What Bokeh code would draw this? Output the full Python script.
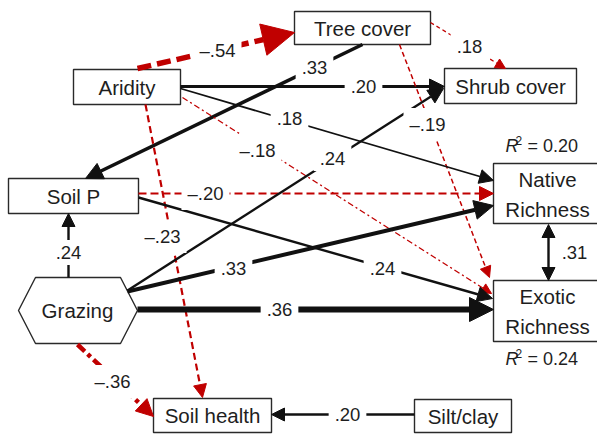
from bokeh.plotting import figure
from bokeh.models import Range1d, Arrow, NormalHead, ColumnDataSource
from bokeh.core.properties import value
from bokeh.embed import file_html
from bokeh.resources import INLINE

# ---------------- data ----------------
node_names = ["Aridity", "Tree cover", "Shrub cover", "Soil P",
              "Native\nRichness", "Exotic\nRichness", "Soil health", "Silt/clay"]
hex_name = "Grazing"
edge_coefs = ["–.54", ".20", ".33", ".18", "–.19", ".18", "–.18", "–.23",
              "–.20", ".24", ".24", ".24", ".33", ".36", "–.36", ".20", ".31"]
r2_values = ["= 0.20", "= 0.24"]

# ---------------- layout (pixel-like coordinates, y down) ----------------
box_left = [73, 294, 444, 8, 493, 493, 153, 414]
box_right = [180, 430, 576, 138, 610, 610, 271, 511]
box_top = [69, 11, 68, 178, 163, 280, 398, 399]
box_bottom = [104, 44, 103, 213, 223, 341, 432, 432]
label_x = [126.5, 362, 510, 73, 547, 547, 212, 462.5]
label_y = [87, 28, 86, 196, 194, 311, 415, 416]

hex_x = [18, 35, 120, 137, 120, 35]
hex_y = [310, 277, 277, 310, 343, 343]
hex_lx, hex_ly = 77, 310

RED = "#c00000"
BLK = "#111111"
# (x0, y0, x1, y1, label x, label y, colour, width, dash, head size, both)
edge_geom = [
    (137, 68, 294, 32, 217, 50, RED, 5.5, "14 6", 32, False),
    (180, 86, 444, 86, 363, 86, BLK, 3, "solid", 15, False),
    (362, 44, 85, 178, 314, 67, BLK, 3.5, "solid", 17, False),
    (430, 22, 505, 68, 469, 46, RED, 1.3, "4 3", 10, False),
    (399, 44, 489, 277, 427, 124, RED, 1.5, "5 3", 11, False),
    (180, 88, 493, 180, 289, 118, BLK, 1.8, "solid", 14, False),
    (182, 97, 491, 293, 257, 150, RED, 1.3, "6 3 2 3", 10, False),
    (145, 104, 202, 397, 162, 236, RED, 2.2, "7 4", 13, False),
    (138, 193, 493, 193, 205, 193, RED, 2.2, "8 4", 14, False),
    (138, 197, 492, 298, 382, 268, BLK, 2.4, "solid", 15, False),
    (68, 277, 68, 213, 68, 252, BLK, 2.4, "solid", 13, False),
    (127, 290, 443, 88, 332, 158, BLK, 2.4, "solid", 15, False),
    (127, 291, 493, 205, 233, 268, BLK, 4, "solid", 19, False),
    (137, 309, 493, 309, 279, 309, BLK, 6, "solid", 24, False),
    (77, 344, 153, 416, 112, 381, RED, 4.5, "10 4 4 4", 17, False),
    (414, 414, 271, 414, 347, 414, BLK, 2.4, "solid", 13, False),
    (548, 224, 548, 280, 574, 252, BLK, 2.4, "solid", 13, True),
]
r2_x = [505, 505]
r2_y = [145, 358]

# ---------------- figure ----------------
p = figure(width=597, height=434, output_backend="svg", toolbar_location=None,
           x_range=Range1d(0, 597), y_range=Range1d(434, 0), min_border=0)
p.axis.visible = False
p.grid.visible = False
p.outline_line_color = None
p.background_fill_color = "white"
p.border_fill_color = "white"

FONT = value("Liberation Sans")
TXT = "#1e1e1e"

# boxes
p.quad(left=box_left, right=box_right, top=box_top, bottom=box_bottom,
       fill_color="white", line_color="#2a2a2a", line_width=1.4)
p.patch(hex_x, hex_y, fill_color="white", line_color="#2a2a2a", line_width=1.4)

# edges
for (x0, y0, x1, y1, lx, ly, col, w, dash, hs, both) in edge_geom:
    head = NormalHead(size=hs, fill_color=col, line_color=col, line_width=1)
    kw = dict(end=head, x_start=x0, y_start=y0, x_end=x1, y_end=y1,
              line_color=col, line_width=w, line_dash=dash)
    if both:
        kw["start"] = NormalHead(size=hs, fill_color=col, line_color=col, line_width=1)
    p.add_layout(Arrow(**kw))

# edge labels
lab_src = ColumnDataSource(dict(
    x=[e[4] for e in edge_geom[:-1]], y=[e[5] for e in edge_geom[:-1]],
    t=edge_coefs[:-1]))
r = p.text(x="x", y="y", text="t", source=lab_src, text_font=FONT,
           text_font_size="18.5px", text_color=TXT, text_align="center",
           text_baseline="middle", background_fill_color="white", padding=6)
r.level = "overlay"
r2 = p.text(x=[edge_geom[-1][4]], y=[edge_geom[-1][5]], text=[edge_coefs[-1]],
            text_font=FONT, text_font_size="18.5px", text_color=TXT,
            text_align="center", text_baseline="middle")
r2.level = "overlay"

# node labels
rn = p.text(x=label_x, y=label_y, text=node_names, text_font=FONT,
            text_font_size="20.5px", text_color=TXT, text_align="center",
            text_baseline="middle", text_line_height=1.3)
rn.level = "overlay"
rh = p.text(x=[hex_lx], y=[hex_ly], text=[hex_name], text_font=FONT,
            text_font_size="20.5px", text_color=TXT, text_align="center",
            text_baseline="middle")
rh.level = "overlay"

# R^2 labels
p.text(x=r2_x, y=r2_y, text=["R", "R"], text_font=FONT, text_font_style="italic",
       text_font_size="18px", text_color=TXT, text_align="left", text_baseline="middle")
p.text(x=r2_x, y=r2_y, text=["2", "2"], text_font=FONT, x_offset=10, y_offset=-5,
       text_font_size="12px", text_color=TXT, text_align="left", text_baseline="middle")
p.text(x=r2_x, y=r2_y, text=r2_values, text_font=FONT, x_offset=22,
       text_font_size="18px", text_color=TXT, text_align="left", text_baseline="middle")

open("out.html", "w").write(file_html(p, INLINE))
